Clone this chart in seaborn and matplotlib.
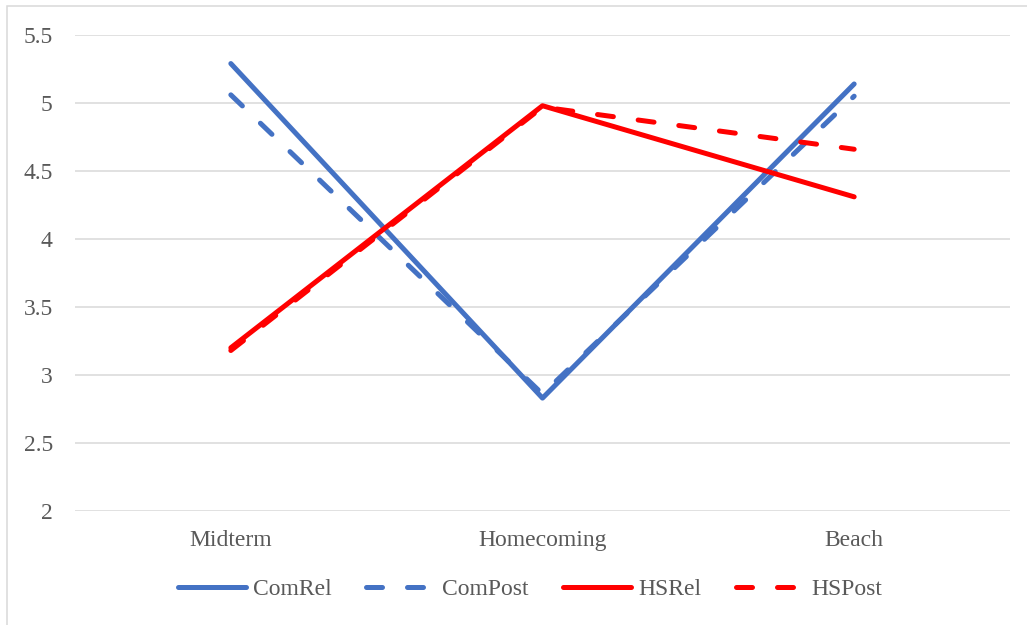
import matplotlib
matplotlib.use("Agg")
import matplotlib.pyplot as plt
from matplotlib.lines import Line2D
from matplotlib.patches import Rectangle
import pandas as pd
import seaborn as sns

categories = ["Midterm", "Homecoming", "Beach"]
com_rel = [5.29, 2.83, 5.14]
com_post = [5.06, 2.86, 5.05]
hs_rel = [3.20, 4.98, 4.31]
hs_post = [3.18, 4.97, 4.66]
series_names = ["ComRel", "ComPost", "HSRel", "HSPost"]
y_ticks = [2, 2.5, 3, 3.5, 4, 4.5, 5, 5.5]
y_tick_labels = ["2", "2.5", "3", "3.5", "4", "4.5", "5", "5.5"]

BLUE = "#4472C4"
RED = "#FF0000"
TEXT = "#595959"
GRID = "#D9D9D9"
LW = 3.6
DASH = (3.2, 5.0)

palette = {"ComRel": BLUE, "ComPost": BLUE, "HSRel": RED, "HSPost": RED}
dashes = {"ComRel": "", "ComPost": DASH, "HSRel": "", "HSPost": DASH}

frames = []
for name, vals in zip(series_names, [com_rel, com_post, hs_rel, hs_post]):
    frames.append(pd.DataFrame({"category": categories, "value": vals, "series": name}))
df = pd.concat(frames, ignore_index=True)

sns.set_theme(style="white")
plt.rcParams["font.family"] = ["Liberation Serif", "DejaVu Serif"]

fig = plt.figure(figsize=(10.27, 6.25), dpi=100)
ax = fig.add_axes([75 / 1027, 1 - 511 / 625, (1010 - 75) / 1027, (511 - 35) / 625])

sns.lineplot(
    data=df, x="category", y="value", hue="series", style="series",
    hue_order=series_names, style_order=series_names,
    palette=palette, dashes=dashes, linewidth=LW, sort=False,
    legend=False, ax=ax,
    solid_capstyle="round", dash_capstyle="round",
)

ax.set_xlim(-0.5, 2.5)
ax.set_ylim(2, 5.5)
ax.set_yticks(y_ticks)
ax.set_yticklabels(y_tick_labels)
ax.set_xticks(range(len(categories)))
ax.set_xticklabels(categories)
ax.set_xlabel("")
ax.set_ylabel("")
ax.yaxis.grid(True, color=GRID, linewidth=1.1)
ax.xaxis.grid(False)
ax.set_axisbelow(True)
for side in ["top", "right", "left", "bottom"]:
    ax.spines[side].set_visible(False)
ax.tick_params(axis="y", length=0, pad=16, labelsize=17, labelcolor=TEXT)
ax.tick_params(axis="x", length=0, pad=14, labelsize=17, labelcolor=TEXT)

handles = [
    Line2D([], [], color=palette[n], linewidth=LW,
           linestyle=(0, DASH) if dashes[n] else "-",
           solid_capstyle="round", dash_capstyle="round")
    for n in series_names
]
fig.legend(
    handles, series_names, loc="center",
    bbox_to_anchor=(530 / 1027, 1 - 589 / 625),
    ncol=4, frameon=False, fontsize=17, labelcolor=TEXT,
    handlelength=2.9, handletextpad=0.3, columnspacing=1.45,
)

# chart area outline
fig.patches.append(Rectangle((7 / 1027, -0.05), 1.2, 1 - 6 / 625 + 0.05,
                             transform=fig.transFigure, fill=False,
                             edgecolor=GRID, linewidth=1.1))

fig.savefig("out.png", dpi=100, facecolor="white")
